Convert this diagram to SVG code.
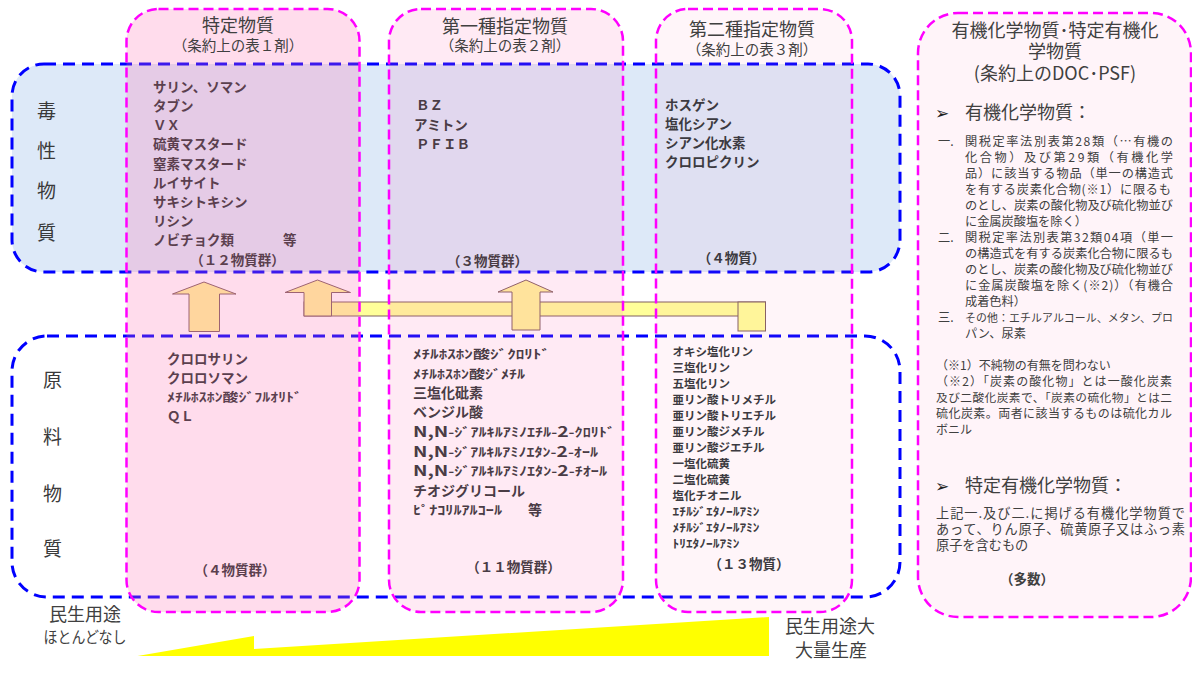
<svg xmlns="http://www.w3.org/2000/svg" width="1192" height="675" viewBox="0 0 1192 675">
<defs>
<style>
text{font-family:"Noto Sans CJK JP","Noto Sans CJK SC",sans-serif;}
.bluebox{stroke:#0000ff;stroke-width:3;stroke-dasharray:12 7;}
.col{fill:rgb(255,109,176);stroke:#ff00ff;stroke-width:2.5;stroke-dasharray:10 5;}
.hd{font-size:18px;fill:#404040;text-anchor:middle;}
.sub{font-size:14.5px;fill:#404040;text-anchor:middle;}
.side{font-size:19px;fill:#3a3a3a;text-anchor:middle;}
.b{font-weight:bold;}
.t1{fill:#5b3f4e;}
.t2{fill:#4a3c45;}
.t3{fill:#3c3a40;}
.big{font-size:13.5px;}
.mid{font-size:14px;}
.sm{font-size:12.5px;}
.c3{font-size:11.5px;}
.cnt{font-size:13.5px;font-weight:bold;text-anchor:middle;}
.arrow{fill:#fff799;stroke:#7f6060;stroke-width:1;}
.bar{fill:#ffff99;stroke:#7f6060;stroke-width:1;}
.pn{font-size:12.2px;fill:#404040;}
.pt{font-size:18px;fill:#404040;text-anchor:middle;}
.ph{font-size:18px;fill:#404040;}
.bul{font-family:"DejaVu Sans",sans-serif;font-size:17px;fill:#202020;}
.bot{font-size:18px;fill:#404040;text-anchor:middle;}
</style>
</defs>
<rect x="0" y="0" width="1192" height="675" fill="#ffffff"/>

<g id="toxic-box">
<rect class="bluebox" x="12" y="64" width="888" height="208" rx="32" fill="#dde9f8"/>
<text class="side" x="46.5" y="118">毒</text>
<text class="side" x="46.5" y="158">性</text>
<text class="side" x="46.5" y="198">物</text>
<text class="side" x="46.5" y="240">質</text>
</g>

<g id="raw-box">
<rect class="bluebox" x="12" y="336" width="888" height="261" rx="35" fill="none"/>
<text class="side" x="52.5" y="387">原</text>
<text class="side" x="52.5" y="444">料</text>
<text class="side" x="52.5" y="501">物</text>
<text class="side" x="52.5" y="556">質</text>
</g>

<g id="connectors">
<path class="arrow" d="M204,282 L236,294 L219.5,294 L219.5,331.5 L189,331.5 L189,294 L172.5,294 Z"/>
<rect class="bar" x="304" y="302" width="461.5" height="14"/>
<rect class="bar" x="738" y="302" width="27.5" height="29"/>
<path class="arrow" d="M317.5,280 L350.5,292.5 L331.5,292.5 L331.5,316 L304,316 L304,292.5 L285,292.5 Z"/>
<path class="arrow" d="M526,280 L553,292 L540,292 L540,330 L512,330 L512,292 L498,292 Z"/>
</g>

<g id="col-tokutei">
<rect class="col" x="126.5" y="9" width="233" height="603" rx="32" fill-opacity="0.24"/>
<text class="hd" x="238" y="31.5">特定物質</text>
<text class="sub" x="238" y="51">（条約上の表１剤）</text>
<g class="b big t1">
<text x="153" y="92">サリン、ソマン</text>
<text x="153" y="111">タブン</text>
<text x="153" y="130">ＶＸ</text>
<text x="153" y="149">硫黄マスタード</text>
<text x="153" y="168.5">窒素マスタード</text>
<text x="153" y="187.5">ルイサイト</text>
<text x="153" y="207">サキシトキシン</text>
<text x="153" y="226">リシン</text>
<text x="153" y="245">ノビチョク類<tspan x="283">等</tspan></text>
</g>
<text class="cnt t1" x="237.5" y="265">（１２物質群）</text>
<g class="b t1">
<text class="big" x="167" y="363.5">クロロサリン</text>
<text class="big" x="167" y="383">クロロソマン</text>
<text class="sm" x="167" y="401.5" textLength="135" lengthAdjust="spacingAndGlyphs">ﾒﾁﾙﾎｽﾎﾝ酸ｼﾞﾌﾙｵﾘﾄﾞ</text>
<text class="big" x="167" y="421">ＱＬ</text>
</g>
<text class="cnt t1" x="235" y="574.5">（４物質群）</text>
</g>

<g id="col-dai1">
<rect class="col" x="389" y="9" width="234" height="603" rx="32" fill-opacity="0.14"/>
<text class="hd" x="505" y="32.5">第一種指定物質</text>
<text class="sub" x="505" y="51">（条約上の表２剤）</text>
<g class="b big t2">
<text x="416" y="110">ＢＺ</text>
<text x="414" y="129.5">アミトン</text>
<text x="416" y="149">ＰＦＩＢ</text>
</g>
<text class="cnt t2" x="487.5" y="266">（３物質群）</text>
<g class="b t2">
<text class="sm" x="413" y="359" textLength="137" lengthAdjust="spacingAndGlyphs">ﾒﾁﾙﾎｽﾎﾝ酸ｼﾞｸﾛﾘﾄﾞ</text>
<text class="sm" x="413" y="378.5" textLength="112" lengthAdjust="spacingAndGlyphs">ﾒﾁﾙﾎｽﾎﾝ酸ｼﾞﾒﾁﾙ</text>
<text class="mid" x="413" y="398" font-size="14.5">三塩化砒素</text>
<text class="mid" x="413" y="417">ベンジル酸</text>
<text x="413" y="437" font-size="12.5" textLength="202" lengthAdjust="spacingAndGlyphs"><tspan font-size="15">N,N</tspan>-ｼﾞｱﾙｷﾙｱﾐﾉｴﾁﾙ-<tspan font-size="15">2</tspan>-ｸﾛﾘﾄﾞ</text>
<text x="413" y="456.5" font-size="12.5" textLength="185" lengthAdjust="spacingAndGlyphs"><tspan font-size="15">N,N</tspan>-ｼﾞｱﾙｷﾙｱﾐﾉｴﾀﾝ-<tspan font-size="15">2</tspan>-ｵｰﾙ</text>
<text x="413" y="476" font-size="12.5" textLength="194" lengthAdjust="spacingAndGlyphs"><tspan font-size="15">N,N</tspan>-ｼﾞｱﾙｷﾙｱﾐﾉｴﾀﾝ-<tspan font-size="15">2</tspan>-ﾁｵｰﾙ</text>
<text class="mid" x="413" y="495.5">チオジグリコール</text>
<text class="sm" x="413" y="514.5" textLength="89" lengthAdjust="spacingAndGlyphs">ﾋﾟﾅｺﾘﾙｱﾙｺｰﾙ</text>
<text class="mid" x="528" y="514.5">等</text>
</g>
<text class="cnt t2" x="513.5" y="572">（１１物質群）</text>
</g>

<g id="col-dai2">
<rect class="col" x="656" y="9" width="196" height="603" rx="32" fill-opacity="0.07"/>
<text class="hd" x="752" y="36">第二種指定物質</text>
<text class="sub" x="752" y="55">（条約上の表３剤）</text>
<g class="b big t3">
<text x="665" y="109.5">ホスゲン</text>
<text x="665" y="128.5">塩化シアン</text>
<text x="665" y="147.5">シアン化水素</text>
<text x="665" y="167">クロロピクリン</text>
</g>
<text class="cnt t3" x="731.5" y="263">（４物質）</text>
<g class="b c3 t3">
<text x="672.5" y="355.5">オキシ塩化リン</text>
<text x="672.5" y="371.5">三塩化リン</text>
<text x="672.5" y="387.5">五塩化リン</text>
<text x="672.5" y="403.5">亜リン酸トリメチル</text>
<text x="672.5" y="419.5">亜リン酸トリエチル</text>
<text x="672.5" y="435.5">亜リン酸ジメチル</text>
<text x="672.5" y="451.5">亜リン酸ジエチル</text>
<text x="672.5" y="467.5">一塩化硫黄</text>
<text x="672.5" y="483.5">二塩化硫黄</text>
<text x="672.5" y="499.5">塩化チオニル</text>
<text x="672.5" y="515.5" textLength="87" lengthAdjust="spacingAndGlyphs">ｴﾁﾙｼﾞｴﾀﾉｰﾙｱﾐﾝ</text>
<text x="672.5" y="531.5" textLength="87" lengthAdjust="spacingAndGlyphs">ﾒﾁﾙｼﾞｴﾀﾉｰﾙｱﾐﾝ</text>
<text x="672.5" y="547.5" textLength="67" lengthAdjust="spacingAndGlyphs">ﾄﾘｴﾀﾉｰﾙｱﾐﾝ</text>
</g>
<text class="cnt t3" x="749" y="568.5">（１３物質）</text>
</g>

<g id="panel-organic">
<rect class="col" x="918" y="13" width="273" height="604" rx="40" fill-opacity="0.075"/>
<text class="pt" x="1055" y="36.5">有機化学物質･特定有機化</text>
<text class="pt" x="1055" y="58">学物質</text>
<text class="pt" x="1055" y="80">(条約上のDOC･PSF)</text>
<text class="bul" x="935" y="118.5">➢</text>
<text class="ph" x="965" y="118.5">有機化学物質：</text>
<g class="pn">
<text x="938" y="146">一.</text>
<text x="965" y="146" textLength="208" lengthAdjust="spacing">関税定率法別表第28類（…有機の</text>
<text x="965" y="162" textLength="208" lengthAdjust="spacing">化合物）及び第29類（有機化学</text>
<text x="965" y="178" textLength="208" lengthAdjust="spacing">品）に該当する物品（単一の構造式</text>
<text x="965" y="194" textLength="206" lengthAdjust="spacing">を有する炭素化合物(※1）に限るも</text>
<text x="965" y="210" textLength="208" lengthAdjust="spacing">のとし、炭素の酸化物及び硫化物並び</text>
<text x="965" y="226">に金属炭酸塩を除く）</text>
<text x="938" y="242">二.</text>
<text x="965" y="242" textLength="208" lengthAdjust="spacing">関税定率法別表第32類04項（単一</text>
<text x="965" y="258" textLength="208" lengthAdjust="spacing">の構造式を有する炭素化合物に限るも</text>
<text x="965" y="274" textLength="208" lengthAdjust="spacing">のとし、炭素の酸化物及び硫化物並び</text>
<text x="965" y="290" textLength="208" lengthAdjust="spacing">に金属炭酸塩を除く(※2)）（有機合</text>
<text x="965" y="306">成着色料）</text>
<text x="938" y="322">三.</text>
<text x="965" y="322" style="font-size:10.9px" textLength="208" lengthAdjust="spacing">その他：エチルアルコール、メタン、プロ</text>
<text x="965" y="338">パン、尿素</text>
</g>
<g class="pn">
<text x="936" y="369.5" style="font-size:12px">（※1）不純物の有無を問わない</text>
<text x="936" y="386" style="font-size:12px" textLength="236" lengthAdjust="spacing">（※2）「炭素の酸化物」とは一酸化炭素</text>
<text x="936" y="402" style="font-size:11.7px" textLength="236" lengthAdjust="spacing">及び二酸化炭素で、「炭素の硫化物」とは二</text>
<text x="936" y="418" style="font-size:12px" textLength="236" lengthAdjust="spacing">硫化炭素。両者に該当するものは硫化カル</text>
<text x="936" y="434" style="font-size:12px">ボニル</text>
</g>
<text class="bul" x="935" y="491.5">➢</text>
<text class="ph" x="965" y="491.5">特定有機化学物質：</text>
<g class="pn">
<text x="936" y="518" style="font-size:13.2px" textLength="249" lengthAdjust="spacing">上記一.及び二.に掲げる有機化学物質で</text>
<text x="936" y="534" style="font-size:13.2px" textLength="249" lengthAdjust="spacing">あって、りん原子、硫黄原子又はふっ素</text>
<text x="936" y="550" style="font-size:13.2px">原子を含むもの</text>
</g>
<text class="cnt" x="1027" y="584" fill="#404040">（多数）</text>
</g>

<g id="usage-scale">
<path d="M137.5,656 L254,636 L254,649 L769,617 L769,656 Z" fill="#ffff00"/>
<text class="bot" x="85" y="621">民生用途</text>
<text class="bot" x="85" y="643" style="font-size:16px" textLength="83" lengthAdjust="spacingAndGlyphs">ほとんどなし</text>
<text class="bot" x="830" y="633">民生用途大</text>
<text class="bot" x="831" y="656.5">大量生産</text>
</g>
</svg>
